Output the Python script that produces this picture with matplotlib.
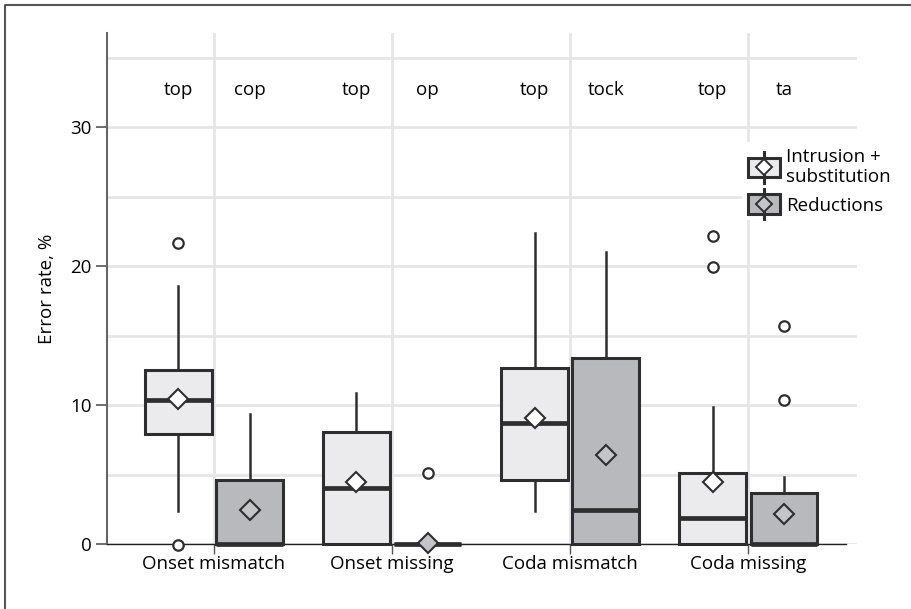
import matplotlib
matplotlib.use("Agg")
import matplotlib.pyplot as plt
from matplotlib.legend_handler import HandlerBase
from matplotlib.patches import Rectangle
from matplotlib.lines import Line2D
from matplotlib.ticker import MultipleLocator

plt.rcParams['font.family'] = ['Open Sans', 'DejaVu Sans']
FS = 13.5

categories = ['Onset mismatch', 'Onset missing', 'Coda mismatch', 'Coda missing']
words_intr = ['top', 'top', 'top', 'top']
words_red = ['cop', 'op', 'tock', 'ta']

# intrusion + substitution
intr_med = [10.4, 4.0, 8.7, 1.85]
intr_q1 = [7.9, 0.0, 4.6, 0.0]
intr_q3 = [12.5, 8.1, 12.7, 5.1]
intr_lo = [2.4, 0.0, 2.4, 0.0]
intr_hi = [18.6, 10.9, 22.4, 9.85]
intr_mean = [10.45, 4.5, 9.1, 4.45]
intr_out = [[21.7, -0.1], [], [], [22.15, 19.95]]

# reductions
red_med = [0.0, 0.0, 2.45, 0.0]
red_q1 = [0.0, 0.0, 0.0, 0.0]
red_q3 = [4.6, 0.0, 13.4, 3.65]
red_lo = [0.0, 0.0, 0.0, 0.0]
red_hi = [9.35, 0.0, 21.0, 4.8]
red_mean = [2.45, 0.1, 6.4, 2.15]
red_out = [[], [5.1], [], [15.7, 10.4]]

LIGHT = '#ebebee'
DARK = '#b8b9bc'
EDGE = '#2e2e2e'
GRID = '#e6e6e9'


def make_stats(med, q1, q3, lo, hi, mean, out):
    return [dict(med=med[i], q1=q1[i], q3=q3[i], whislo=lo[i], whishi=hi[i],
                 mean=mean[i], fliers=out[i]) for i in range(len(med))]


fig = plt.figure(figsize=(9.12, 6.09), dpi=100)
ax = fig.add_axes([107 / 912, 1 - 544 / 609, 750 / 912, 511 / 609])

ax.set_xlim(-0.6, 3.61)
ax.set_ylim(0, 36.8)

xs = range(len(categories))
off = 0.2
width = 0.375


def draw(stats, pos, face, meanface):
    bp = ax.bxp(stats, positions=pos, widths=width, patch_artist=True,
                showmeans=True, showcaps=False, manage_ticks=False,
                boxprops=dict(facecolor=face, edgecolor=EDGE, linewidth=2.2),
                medianprops=dict(color=EDGE, linewidth=3.4, solid_capstyle='butt'),
                whiskerprops=dict(color=EDGE, linewidth=1.8),
                meanprops=dict(marker='D', markersize=10, markerfacecolor=meanface,
                               markeredgecolor=EDGE, markeredgewidth=1.5),
                flierprops=dict(marker='o', markersize=7.5, markerfacecolor='white',
                                markeredgecolor=EDGE, markeredgewidth=1.6))
    for group in bp.values():
        for art in group:
            art.set_clip_on(False)
            art.set_zorder(3)
    for m in bp['means']:
        m.set_zorder(4)
    return bp


draw(make_stats(intr_med, intr_q1, intr_q3, intr_lo, intr_hi, intr_mean, intr_out),
     [x - off for x in xs], LIGHT, 'white')
draw(make_stats(red_med, red_q1, red_q3, red_lo, red_hi, red_mean, red_out),
     [x + off for x in xs], DARK, '#c4c5c8')

for x, w1, w2 in zip(xs, words_intr, words_red):
    ax.text(x - off, 32.7, w1, ha='center', va='center', fontsize=FS)
    ax.text(x + off, 32.7, w2, ha='center', va='center', fontsize=FS)

# axes, ticks, grid
ax.set_xticks(list(xs))
ax.set_xticklabels(categories, fontsize=FS)
ax.yaxis.set_major_locator(MultipleLocator(10))
ax.yaxis.set_minor_locator(MultipleLocator(5))
ax.tick_params(axis='y', which='major', length=8, width=1.2, color='#555555',
               labelsize=FS, pad=3)
ax.tick_params(axis='y', which='minor', length=0)
ax.tick_params(axis='x', length=7, width=1.0, color='#555555', pad=1)
ax.grid(True, which='both', axis='y', color=GRID, linewidth=2.0, zorder=0)
ax.grid(True, which='major', axis='x', color=GRID, linewidth=2.0, zorder=0)
ax.set_axisbelow(True)

for s in ['top', 'right']:
    ax.spines[s].set_visible(False)
ax.spines['left'].set_color('#666666')
ax.spines['left'].set_linewidth(1.5)
ax.spines['bottom'].set_color('#222222')
ax.spines['bottom'].set_linewidth(1.0)
ax.spines['bottom'].set_bounds(-0.6, 3.55)
ax.set_ylabel('Error rate, %', fontsize=FS, labelpad=10)


class BoxHandler(HandlerBase):
    def __init__(self, face, meanface):
        super().__init__()
        self.face = face
        self.meanface = meanface

    def create_artists(self, legend, orig_handle, xdescent, ydescent,
                       width, height, fontsize, trans):
        cx = width / 2 - xdescent
        cy = height / 2 - ydescent
        bw, bh = width, 14
        whisk = Line2D([cx, cx], [cy - bh / 2 - 4, cy + bh / 2 + 4],
                       color=EDGE, linewidth=2.2, transform=trans)
        box = Rectangle((cx - bw / 2, cy - bh / 2), bw, bh, facecolor=self.face,
                        edgecolor=EDGE, linewidth=2.2, transform=trans)
        diam = Line2D([cx], [cy], marker='D', markersize=8,
                      markerfacecolor=self.meanface, markeredgecolor=EDGE,
                      markeredgewidth=1.4, transform=trans)
        return [box, whisk, diam]


h1 = Rectangle((0, 0), 1, 1)
h2 = Rectangle((0, 0), 1, 1)
leg = fig.legend([h1, h2], ['Intrusion +\nsubstitution', 'Reductions'],
                 handler_map={h1: BoxHandler(LIGHT, 'white'),
                              h2: BoxHandler(DARK, '#c4c5c8')},
                 loc='upper left', bbox_to_anchor=(742 / 912, 1 - 142 / 609),
                 frameon=True, facecolor='white', edgecolor='none', framealpha=1,
                 fancybox=False, fontsize=FS, handlelength=1.75, handletextpad=0.3,
                 labelspacing=0.55, borderpad=0.3, borderaxespad=0)
leg.get_frame().set_linewidth(0)

# frame around the figure (left and top edges)
fig.add_artist(Line2D([5.5 / 912, 5.5 / 912, 1.01], [-0.01, 1 - 5 / 609, 1 - 5 / 609],
                      transform=fig.transFigure, color='#555555', linewidth=1.5))

fig.savefig('out.png', dpi=100)
